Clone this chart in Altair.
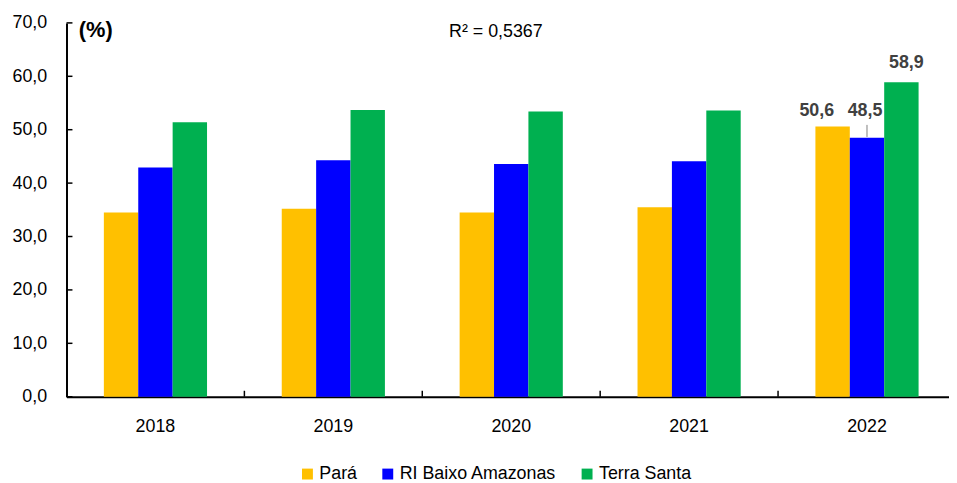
import altair as alt
import pandas as pd

# ---- data ----
years = ["2018", "2019", "2020", "2021", "2022"]
series = ["Pará", "RI Baixo Amazonas", "Terra Santa"]
para = [34.5, 35.2, 34.5, 35.5, 50.6]
ri_baixo = [42.9, 44.3, 43.6, 44.1, 48.5]
terra_santa = [51.4, 53.7, 53.4, 53.6, 58.9]
colors = ["#FFC000", "#0000FF", "#00B050"]
y_ticks = [0, 10, 20, 30, 40, 50, 60, 70]
x_tick_years = ["2019", "2020", "2021", "2022"]  # category-separator ticks (left edge of each)
r2_text = ["R² = 0,5367"]
y_title = "(%)"

rows = []
for i, yr in enumerate(years):
    for s, vals in zip(series, [para, ri_baixo, terra_santa]):
        rows.append({"year": yr, "series": s, "value": vals[i]})
df = pd.DataFrame(rows)
df["label"] = df["value"].map(lambda v: f"{v:.1f}".replace(".", ","))

W, H = 897, 377
FONT = "Liberation Sans"
P_IN = 0.42
STEP = W / len(years)

x_scale = alt.Scale(domain=years, paddingInner=P_IN, paddingOuter=P_IN / 2)
y_scale = alt.Scale(domain=[0, 70], nice=False, zero=True)
xo = alt.XOffset("series:N", sort=series, scale=alt.Scale(domain=series, paddingInner=0, paddingOuter=0))

x_axis = alt.Axis(title=None, labelFontSize=18, labelFont=FONT, labelColor="black",
                  labelPadding=21, ticks=False, tickSize=0, domainColor="black",
                  domainWidth=2, labelAngle=0, grid=False)
y_axis = alt.Axis(values=y_ticks,
                  labelExpr="replace(format(datum.value, '.1f'), '.', ',')",
                  title=y_title, titleAngle=0, titleX=29, titleY=7, titleAlign="center",
                  titleBaseline="middle", titleFontSize=22, titleFontWeight="bold",
                  titleFont=FONT, titleColor="black",
                  ticks=False, tickSize=0, labelPadding=20, grid=False,
                  domainColor="black", domainWidth=2, labelFontSize=18,
                  labelFont=FONT, labelColor="black")


def X(**kw):
    return alt.X("year:N", sort=years, scale=x_scale, axis=x_axis, **kw)


def Y(field):
    return alt.Y(field, scale=y_scale, axis=y_axis)


bars = alt.Chart(df).mark_bar().encode(
    x=X(),
    xOffset=xo,
    y=Y("value:Q"),
    color=alt.Color("series:N", sort=series,
                    scale=alt.Scale(domain=series, range=colors),
                    legend=alt.Legend(title=None, orient="none", legendX=234, legendY=446,
                                      direction="horizontal", symbolType="square",
                                      symbolSize=121, symbolStrokeWidth=0,
                                      labelFontSize=18, labelFont=FONT, labelColor="black",
                                      columnPadding=21, labelOffset=3)),
)

yticks = alt.Chart(pd.DataFrame({"tick": y_ticks})).mark_rule(
    color="black", strokeWidth=1.5
).encode(
    y=Y("tick:Q"),
    x=alt.value(0), x2=alt.value(6),
)

xticks = alt.Chart(pd.DataFrame({"year": x_tick_years})).mark_rule(
    color="black", strokeWidth=1.5, xOffset=-P_IN * STEP / 2
).encode(
    x=X(bandPosition=0),
    y=alt.value(H), y2=alt.value(H - 6),
)

lab_base = alt.Chart(df).transform_filter("datum.year == '2022'")


def value_label(name, dx, dy):
    return lab_base.transform_filter(alt.datum.series == name).mark_text(
        dx=dx, dy=dy, fontSize=18, fontWeight="bold", color="#404040",
        font=FONT, baseline="middle", align="center"
    ).encode(
        x=X(),
        xOffset=xo,
        y=Y("value:Q"),
        text="label:N",
    )


leader = lab_base.transform_filter(alt.datum.series == "RI Baixo Amazonas").transform_calculate(
    y1="datum.value + 0.15", y2="datum.value + 2.4"
).mark_rule(color="#808080", strokeWidth=1).encode(
    x=X(),
    xOffset=xo,
    y=Y("y1:Q"),
    y2="y2:Q",
)

r2 = alt.Chart(pd.DataFrame({"t": r2_text})).mark_text(
    fontSize=18, font=FONT, color="black", baseline="middle", align="center"
).encode(x=alt.value(433), y=alt.value(9), text="t:N")

chart = alt.layer(
    bars, yticks, xticks, leader,
    value_label("Pará", -16, -16),
    value_label("RI Baixo Amazonas", -2, -27),
    value_label("Terra Santa", 5, -19),
    r2,
).properties(
    width=W, height=H,
    autosize=alt.AutoSizeParams(type="none"),
    padding={"left": 59, "top": 13, "right": -7, "bottom": 86},
    background="white",
).configure_view(stroke=None)

chart.save("out.html", embed_options={"renderer": "svg", "actions": False})
